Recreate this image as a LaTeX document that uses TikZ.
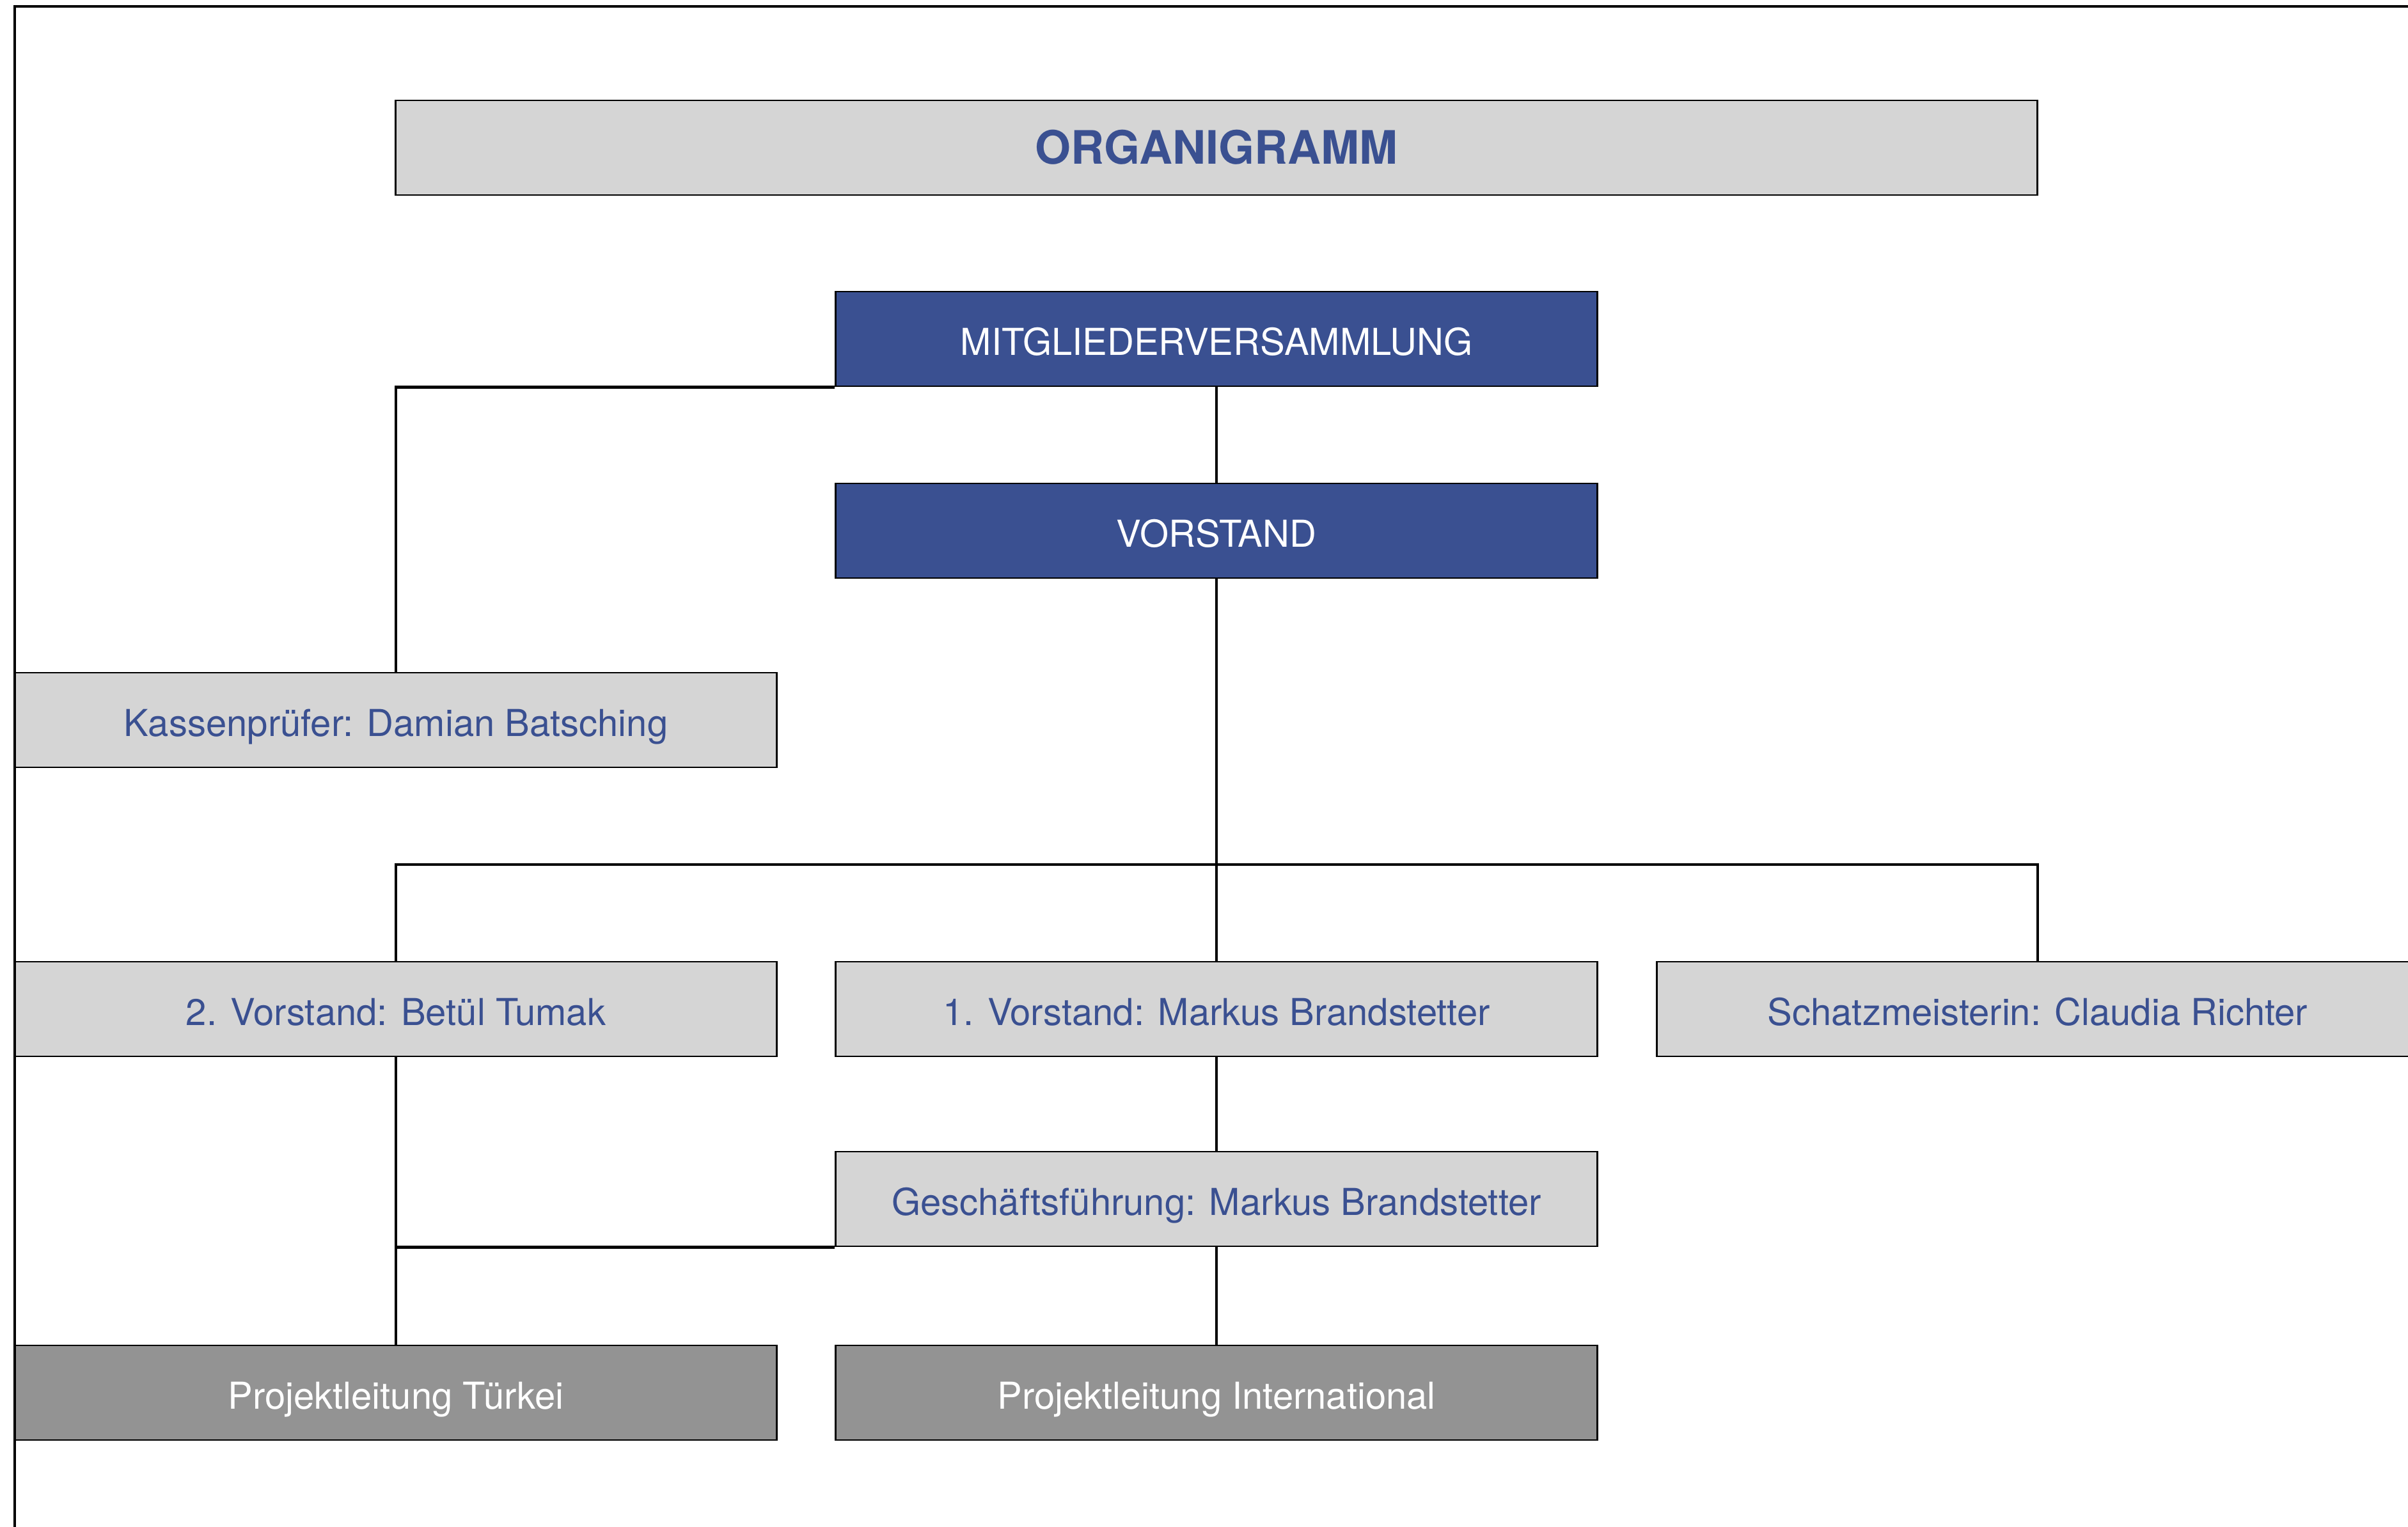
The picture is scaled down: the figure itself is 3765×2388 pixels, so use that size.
\documentclass[tikz,border=0pt]{standalone}
\usepackage{fontspec}
\setmainfont{TeX Gyre Heros}
\usepackage{tikz}
\usetikzlibrary{positioning}
\definecolor{orgblue}{RGB}{58,80,145}
\definecolor{orglight}{RGB}{213,213,213}
\definecolor{orgdark}{RGB}{147,147,147}
\tikzset{
  orgbox/.style={rectangle,draw=black,line width=0.8pt,inner sep=0pt,
    minimum width=119.1mm,minimum height=14.8mm,
    text height=14.6pt,text depth=0pt,
    font=\fontsize{16.5}{20}\selectfont},
  bluebox/.style={orgbox,fill=orgblue,text=white},
  greybox/.style={orgbox,fill=orglight,text=orgblue},
  darkbox/.style={orgbox,fill=orgdark,text=white},
  titlebox/.style={greybox,minimum width=256.7mm,text height=14.7pt,
    font=\fontsize{20.5}{24}\selectfont\bfseries},
  link/.style={draw=black,line width=1.2pt},
  frame/.style={draw=black,line width=0.9pt}
}

\begin{document}
\begin{tikzpicture}[x=0.1mm,y=-0.1mm]
    \useasboundingbox (0,0) rectangle (3765,2388);
    \draw[frame] (23,2388) -- (23,10) -- (3765,10);

    \node (title)    at (1902,231)  [titlebox] {ORGANIGRAMM};
    \node (mv)       at (1902,530)  [bluebox] {MITGLIEDERVERSAMMLUNG};
    \node (vorstand) at (1902,830)  [bluebox] {VORSTAND};
    \node (kassen)   at (619,1126)  [greybox] {Kassenprüfer: Damian Batsching};
    \node (vorstand2) at (619,1578) [greybox] {2. Vorstand: Betül Tumak};
    \node (vorstand1) at (1902,1578) [greybox] {1. Vorstand: Markus Brandstetter};
    \node (schatz)   at (3186,1578) [greybox] {Schatzmeisterin: Claudia Richter};
    \node (gf)       at (1902,1875) [greybox] {Geschäftsführung: Markus Brandstetter};
    \node (pt)       at (619,2178)  [darkbox] {Projektleitung Türkei};
    \node (pi)       at (1902,2178) [darkbox] {Projektleitung International};
    \coordinate (bus) at (1902,1352);

    \draw[link] (mv.south west) -| (kassen.north);
    \draw[link] (mv.south) -- (vorstand.north);
    \draw[link] (vorstand.south) -- (bus);
    \draw[link] (bus) -| (vorstand2.north);
    \draw[link] (bus) -- (vorstand1.north);
    \draw[link] (bus) -| (schatz.north);
    \draw[link] (vorstand1.south) -- (gf.north);
    \draw[link] (vorstand2.south) -- (pt.north);
    \draw[link] (gf.south west) -| (pt.north);
    \draw[link] (gf.south) -- (pi.north);
\end{tikzpicture}
\end{document}
